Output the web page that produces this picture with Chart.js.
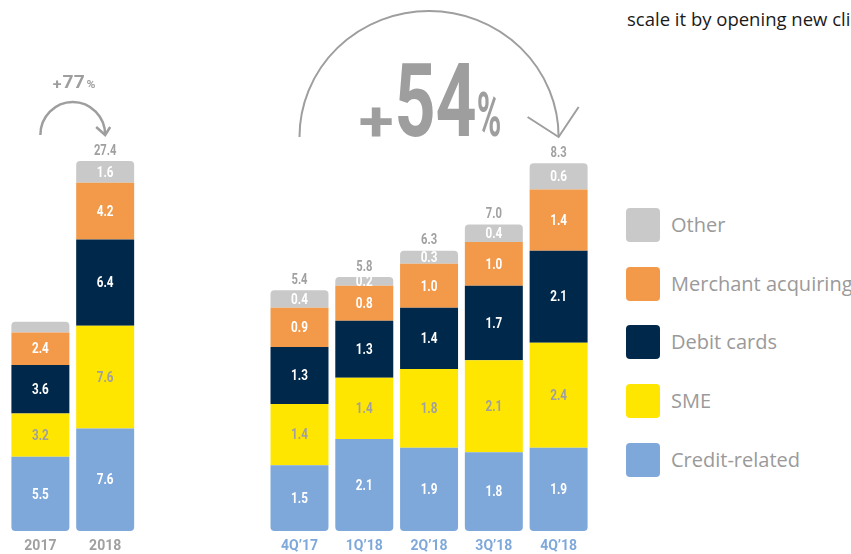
<!DOCTYPE html>
<html>
<head>
<meta charset="utf-8">
<script src="https://cdn.jsdelivr.net/npm/chart.js@4.4.1/dist/chart.umd.min.js"></script>
<style>
  html, body { margin: 0; padding: 0; background: #fff; overflow: hidden; }
  body { width: 851px; height: 554px; position: relative; font-family: "Open Sans", "Noto Sans", sans-serif; }
  #wrap { position: absolute; left: 0; top: 0; width: 600px; height: 554px; }
  #note { position: absolute; left: 627px; top: 6px; font-size: 18.5px; color: #1a1a1a; white-space: nowrap; }
  #legend { position: absolute; left: 626px; top: 208px; }
  .item { position: absolute; left: 0; height: 34px; white-space: nowrap; }
  .sw { position: absolute; left: 0; top: 0; width: 34px; height: 34px; border-radius: 4px; }
  .lab { position: absolute; left: 45px; top: 0; line-height: 34px; font-size: 20px; color: #9a9a9a; }
</style>
</head>
<body>
<div id="note">scale it by opening new clients</div>
<div id="wrap"><canvas id="feeChart"></canvas></div>
<div id="legend"></div>
<script>
// categories
const years = ["2017", "2018"];
const quarters = ["4Q\u201917", "1Q\u201918", "2Q\u201918", "3Q\u201918", "4Q\u201918"];

// series, bottom of the stack first
const seriesNames = ["Credit-related", "SME", "Debit cards", "Merchant acquiring", "Other"];
const seriesColors = ["#7fa8da", "#ffe600", "#00284a", "#f39a4a", "#c9c9c9"];

// annual values
const annualCredit = [5.5, 7.6];
const annualSME = [3.2, 7.6];
const annualDebit = [3.6, 6.4];
const annualMerchant = [2.4, 4.2];
const annualOther = [0.8, 1.6];
const annualTotals = [15.5, 27.4];

// quarterly values
const quarterCredit = [1.5, 2.1, 1.9, 1.8, 1.9];
const quarterSME = [1.4, 1.4, 1.8, 2.1, 2.4];
const quarterDebit = [1.3, 1.3, 1.4, 1.7, 2.1];
const quarterMerchant = [0.9, 0.8, 1.0, 1.0, 1.4];
const quarterOther = [0.4, 0.2, 0.3, 0.4, 0.6];
const quarterTotals = [5.4, 5.8, 6.3, 7.0, 8.3];

const annualSeries = [annualCredit, annualSME, annualDebit, annualMerchant, annualOther];
const quarterSeries = [quarterCredit, quarterSME, quarterDebit, quarterMerchant, quarterOther];

// two empty slots separate the annual bars from the quarterly ones
const gap = ["", ""];
const xLabels = [...years, ...gap, ...quarters];
const padAnnual = v => [...v, ...gap.map(() => null), ...quarters.map(() => null)];
const padQuarter = v => [...years.map(() => null), ...gap.map(() => null), ...v];

const COND = 'Roboto, "Liberation Sans", sans-serif';
const GREY = "#a0a0a0";

function radiusFor(i) {
  if (i === 0) return { topLeft: 0, topRight: 0, bottomLeft: 4, bottomRight: 4 };
  if (i === seriesNames.length - 1) return { topLeft: 4, topRight: 4, bottomLeft: 0, bottomRight: 0 };
  return 0;
}

const datasets = [];
seriesNames.forEach((name, i) => {
  datasets.push({
    label: name, group: "annual", series: i,
    data: padAnnual(annualSeries[i]),
    backgroundColor: seriesColors[i],
    yAxisID: "yA", stack: "annual",
    borderRadius: radiusFor(i), borderSkipped: false,
  });
});
seriesNames.forEach((name, i) => {
  datasets.push({
    label: name, group: "quarter", series: i,
    data: padQuarter(quarterSeries[i]),
    backgroundColor: seriesColors[i],
    yAxisID: "yQ", stack: "quarter",
    borderRadius: radiusFor(i), borderSkipped: false,
  });
});

// squeeze text horizontally to look like the condensed face of the original
function condensed(ctx, text, x, y, size, squeeze) {
  ctx.save();
  ctx.font = "bold " + size + "px " + COND;
  ctx.textAlign = "center";
  ctx.textBaseline = "middle";
  ctx.translate(x, y);
  ctx.scale(squeeze, 1);
  ctx.fillText(text, 0, 0);
  ctx.restore();
}

// fit a piece of text into a box (used for the big growth figures)
function drawBox(ctx, text, x0, y0, x1, y1) {
  ctx.font = "bold 100px " + COND;
  ctx.textAlign = "left";
  ctx.textBaseline = "alphabetic";
  const m = ctx.measureText(text);
  const w = m.actualBoundingBoxLeft + m.actualBoundingBoxRight;
  const h = m.actualBoundingBoxAscent + m.actualBoundingBoxDescent;
  ctx.save();
  ctx.translate(x0, y0);
  ctx.scale((x1 - x0) / w, (y1 - y0) / h);
  ctx.fillText(text, m.actualBoundingBoxLeft, m.actualBoundingBoxAscent);
  ctx.restore();
}

function drawArc(ctx, cx, cy, rx, ry, arms, lw) {
  ctx.save();
  ctx.strokeStyle = "#9e9e9e";
  ctx.lineWidth = lw;
  ctx.beginPath();
  ctx.ellipse(cx, cy, rx, ry, 0, Math.PI, 2 * Math.PI);
  ctx.stroke();
  const tx = cx + rx, ty = cy;
  ctx.beginPath();
  ctx.moveTo(tx + arms[0][0], ty + arms[0][1]);
  ctx.lineTo(tx, ty);
  ctx.lineTo(tx + arms[1][0], ty + arms[1][1]);
  ctx.stroke();
  ctx.restore();
}

const labelsPlugin = {
  id: "segmentLabels",
  afterDatasetsDraw(chart) {
    const ctx = chart.ctx;
    chart.data.datasets.forEach((ds, di) => {
      const meta = chart.getDatasetMeta(di);
      meta.data.forEach((el, j) => {
        const v = ds.data[j];
        if (v === null || v === undefined) return;
        // the thin annual "Other" slice carries no label
        if (ds.group === "annual" && v < 1) return;
        ctx.fillStyle = ds.series === 1 ? GREY : "#ffffff";
        condensed(ctx, v.toFixed(1), el.x, (el.y + el.base) / 2 + 1, 15, 0.78);
        if (ds.series === seriesNames.length - 1) {
          const totals = ds.group === "annual" ? annualTotals : quarterTotals;
          const k = ds.group === "annual" ? j : j - years.length - gap.length;
          ctx.fillStyle = GREY;
          condensed(ctx, totals[k].toFixed(1), el.x, el.y - 10, 14, 0.8);
        }
      });
    });
  },
  afterDraw(chart) {
    const ctx = chart.ctx;
    const x = chart.scales.x;
    // annual growth arrow
    const a0 = x.getPixelForValue(0), a1 = x.getPixelForValue(1);
    drawArc(ctx, (a0 + a1) / 2, 135, (a1 - a0) / 2, 33, [[-9, -8], [5, -8]], 2.5);
    // quarterly growth arrow
    const q0 = x.getPixelForValue(years.length + gap.length);
    const q1 = x.getPixelForValue(xLabels.length - 1);
    drawArc(ctx, (q0 + q1) / 2, 137, (q1 - q0) / 2, 126, [[-31, -20], [20, -30]], 2);

    ctx.fillStyle = "#9e9e9e";
    drawBox(ctx, "+", 53, 81, 61, 88.5);
    drawBox(ctx, "77", 63, 75, 84, 88.5);
    drawBox(ctx, "%", 87, 80, 95, 88.5);

    drawBox(ctx, "+", 360, 108, 392, 137);
    drawBox(ctx, "54", 398, 62, 475, 137);
    drawBox(ctx, "%", 478, 92, 500, 137);
  }
};

new Chart(document.getElementById("feeChart"), {
  type: "bar",
  data: { labels: xLabels, datasets: datasets },
  options: {
    responsive: true,
    maintainAspectRatio: false,
    animation: false,
    grouped: false,
    categoryPercentage: 1,
    barPercentage: 0.895,
    layout: { padding: { top: 150, left: 8, right: 9, bottom: 0 } },
    plugins: { legend: { display: false }, tooltip: { enabled: false } },
    scales: {
      x: {
        stacked: true,
        offset: true,
        grid: { display: false, drawTicks: false },
        border: { display: false },
        afterFit: s => { s.height = 23; },
        ticks: {
          padding: 7.5,
          autoSkip: false,
          maxRotation: 0,
          color: c => (c.index < years.length ? GREY : "#7fa8da"),
          font: { family: COND, size: 14, weight: "bold" },
        },
      },
      yA: { stacked: true, display: false, min: 0, max: 28.22 },
      yQ: { stacked: true, display: false, min: 0, max: 8.7 },
    },
  },
  plugins: [labelsPlugin],
});

// legend, top of the stack first
const legend = document.getElementById("legend");
seriesNames.slice().reverse().forEach((name, i) => {
  const idx = seriesNames.length - 1 - i;
  const item = document.createElement("div");
  item.className = "item";
  item.style.top = (i * 58.7) + "px";
  item.innerHTML = '<div class="sw" style="background:' + seriesColors[idx] + '"></div><div class="lab">' + name + "</div>";
  legend.appendChild(item);
});
</script>
</body>
</html>
